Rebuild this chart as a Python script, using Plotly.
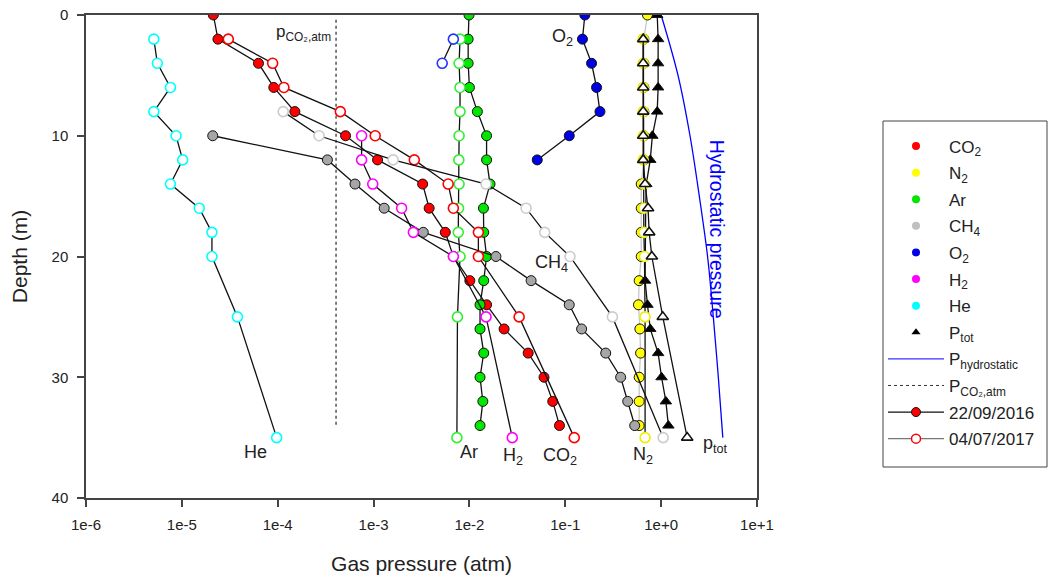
import math
import plotly.graph_objects as go

# ---------------- data ----------------
depth_2016 = [0, 2, 4, 6, 8, 10, 12, 14, 16, 18, 20, 22, 24, 26, 28, 30, 32, 34]
co2_2016 = [2.13e-5, 2.38e-5, 6.3e-5, 9.1e-5, 1.51e-4, 5.1e-4, 1.1e-3, 3.25e-3, 3.8e-3,
            5.6e-3, 6.8e-3, 1.01e-2, 1.51e-2, 2.3e-2, 4.1e-2, 6.0e-2, 7.4e-2, 8.7e-2]
ar_2016 = [9.9e-3, 9.7e-3, 9.7e-3, 1.0e-2, 1.21e-2, 1.51e-2, 1.51e-2, 1.64e-2, 1.4e-2,
           1.41e-2, 1.51e-2, 1.41e-2, 1.29e-2, 1.29e-2, 1.41e-2, 1.29e-2, 1.38e-2, 1.29e-2]
n2_2016 = [0.72, 0.66, 0.66, 0.66, 0.66, 0.66, 0.66, 0.62, 0.62, 0.62, 0.62, 0.59, 0.58,
           0.60, 0.61, 0.59, 0.59, 0.59]
ptot_2016 = [0.91, 0.93, 0.93, 0.93, 0.91, 0.81, 0.77, 0.70, 0.69, 0.69, 0.68, 0.68, 0.72,
             0.77, 0.93, 1.01, 1.12, 1.19]
depth_o2_2016 = [0, 2, 4, 6, 8, 10, 12]
o2_2016 = [0.16, 0.151, 0.188, 0.212, 0.23, 0.110, 0.051]
depth_ch4_2016 = [10, 12, 14, 16, 18, 20, 22, 24, 26, 28, 30, 32, 34]
ch4_2016 = [2.1e-5, 3.3e-4, 6.4e-4, 1.29e-3, 3.3e-3, 1.89e-2, 4.4e-2, 0.110, 0.148,
            0.264, 0.378, 0.448, 0.53]

depth_2017 = [2, 4, 6, 8, 10, 12, 14, 16, 18, 20, 25, 35]
co2_2017 = [3.05e-5, 8.85e-5, 1.16e-4, 4.5e-4, 1.04e-3, 2.66e-3, 6.0e-3, 6.8e-3, 1.24e-2,
            1.24e-2, 3.3e-2, 0.124]
ar_2017 = [7.98e-3, 7.8e-3, 7.98e-3, 7.98e-3, 7.8e-3, 7.75e-3, 7.8e-3, 7.7e-3, 7.65e-3,
           7.98e-3, 7.5e-3, 7.4e-3]
he_2017 = [5.1e-6, 5.55e-6, 7.6e-6, 5.1e-6, 8.7e-6, 1.02e-5, 7.6e-6, 1.52e-5, 2.06e-5,
           2.06e-5, 3.8e-5, 9.75e-5]
n2_2017 = [0.65, 0.65, 0.65, 0.65, 0.65, 0.65, 0.66, 0.66, 0.66, 0.67, 0.68, 0.68]
ptot_2017 = [0.65, 0.65, 0.65, 0.65, 0.65, 0.65, 0.68, 0.73, 0.75, 0.80, 1.04, 1.87]
depth_ch4_2017 = [8, 10, 12, 14, 16, 18, 20, 25, 35]
ch4_2017 = [1.14e-4, 2.7e-4, 1.6e-3, 1.49e-2, 3.9e-2, 6.1e-2, 0.112, 0.31, 1.05]
depth_h2_2017 = [10, 12, 14, 16, 18, 20, 25, 35]
h2_2017 = [7.5e-4, 7.5e-4, 9.8e-4, 1.96e-3, 2.6e-3, 6.8e-3, 1.49e-2, 2.8e-2]
depth_o2_2017 = [2, 4]
o2_2017 = [6.8e-3, 5.2e-3]

depth_hydro = [0, 5, 10, 15, 20, 25, 30, 35]
p_hydro = [1.0, 1.5, 2.0, 2.5, 3.05, 3.5, 3.95, 4.4]

p_co2_atm = 4.06e-4
depth_co2_atm = [0.4, 34]

x_tickvals = [1e-6, 1e-5, 1e-4, 1e-3, 1e-2, 1e-1, 1e0, 1e1]
x_ticktext = ["1e-6", "1e-5", "1e-4", "1e-3", "1e-2", "1e-1", "1e+0", "1e+1"]
y_tickvals = [0, 10, 20, 30, 40]

# ---------------- styling ----------------
FONT = "Arial, Liberation Sans, sans-serif"
TXT = "#222222"
C_CO2, C_N2, C_AR, C_CH4, C_O2, C_H2, C_HE = ("#ff0000", "#ffff00", "#00e600", "#a6a6a6",
                                              "#0000e6", "#ff00ff", "#00ffff")
C_CH4_OPEN = "#cccccc"
LINE16 = dict(color="#111111", width=1.3)
LINE17 = dict(color="#111111", width=1.3)
MS = 10

fig = go.Figure()


def filled(x, y, color, line=LINE16, symbol="circle"):
    fig.add_trace(go.Scatter(x=x, y=y, mode="lines+markers", showlegend=False,
                             line=line,
                             marker=dict(symbol=symbol, size=MS, color=color,
                                         line=dict(color="#111111", width=1))))


def opened(x, y, color, line=LINE17, symbol="circle"):
    fig.add_trace(go.Scatter(x=x, y=y, mode="lines+markers", showlegend=False,
                             line=line,
                             marker=dict(symbol=symbol, size=MS, color="white",
                                         line=dict(color=color, width=1.6))))


# reference lines
fig.add_trace(go.Scatter(x=p_hydro, y=depth_hydro, mode="lines", showlegend=False,
                         line=dict(color="#0000ff", width=1.3, shape="spline")))
fig.add_trace(go.Scatter(x=[p_co2_atm, p_co2_atm], y=depth_co2_atm, mode="lines",
                         showlegend=False, line=dict(color="#555555", width=1.5, dash="dot")))

# 22/09/2016
filled(n2_2016, depth_2016, C_N2, line=dict(color="#c8c8c8", width=1.3))
filled(ptot_2016, depth_2016, "#000000", symbol="triangle-up")
filled(co2_2016, depth_2016, C_CO2)
filled(ar_2016, depth_2016, C_AR)
filled(o2_2016, depth_o2_2016, C_O2)
filled(ch4_2016, depth_ch4_2016, C_CH4)

# 04/07/2017
opened(he_2017, depth_2017, C_HE)
opened(ar_2017, depth_2017, "#33ee33")
opened(co2_2017, depth_2017, C_CO2)
opened(ch4_2017, depth_ch4_2017, C_CH4_OPEN)
opened(h2_2017, depth_h2_2017, C_H2)
opened(o2_2017, depth_o2_2017, "#2233ff")
opened(n2_2017, depth_2017, "#eeee00")
opened(ptot_2017, depth_2017, "#111111", symbol="triangle-up")

# ---------------- legend entries ----------------
leg_items = [
    ("CO<sub>2</sub>", C_CO2), ("N<sub>2</sub>", C_N2), ("Ar", C_AR),
    ("CH<sub>4</sub>", "#c0c0c0"), ("O<sub>2</sub>", C_O2), ("H<sub>2</sub>", C_H2),
    ("He", C_HE),
]
for i, (name, col) in enumerate(leg_items):
    fig.add_trace(go.Scatter(x=[None], y=[None], mode="markers", name=name,
                             legendgroup=f"g{i}",
                             marker=dict(size=8, color=col, line=dict(width=0))))
fig.add_trace(go.Scatter(x=[None], y=[None], mode="markers", name="P<sub>tot</sub>",
                         legendgroup="g7",
                         marker=dict(symbol="triangle-up", size=8, color="black")))
fig.add_trace(go.Scatter(x=[None], y=[None], mode="lines", name="P<sub>hydrostatic</sub>",
                         legendgroup="g8", line=dict(color="#3333ff", width=1.3)))
fig.add_trace(go.Scatter(x=[None], y=[None], mode="lines", name="P<sub>CO₂,atm</sub>",
                         legendgroup="g9", line=dict(color="#333333", width=1, dash="dot")))
fig.add_trace(go.Scatter(x=[None], y=[None], mode="lines+markers", name="22/09/2016",
                         legendgroup="g10", line=dict(color="#111111", width=1.3),
                         marker=dict(size=9, color=C_CO2, line=dict(color="#111111", width=1))))
fig.add_trace(go.Scatter(x=[None], y=[None], mode="lines+markers", name="04/07/2017",
                         legendgroup="g11", line=dict(color="#777777", width=1.3),
                         marker=dict(size=9, color="white", line=dict(color=C_CO2, width=1.5))))

# ---------------- annotations (x in log10 units on the log axis) ----------------
ann = [
    ("He", 5.8e-5, 36.2), ("Ar", 9.9e-3, 36.2), ("H<sub>2</sub>", 2.84e-2, 36.6),
    ("CO<sub>2</sub>", 8.8e-2, 36.6), ("N<sub>2</sub>", 0.647, 36.5),
    ("p<sub>tot</sub>", 3.65, 35.6), ("CH<sub>4</sub>", 7.26e-2, 20.6),
    ("O<sub>2</sub>", 9.25e-2, 1.9),
]
for text, x, y in ann:
    fig.add_annotation(x=math.log10(x), y=y, text=text, showarrow=False,
                       font=dict(family=FONT, size=18, color=TXT))
fig.add_annotation(x=math.log10(3.78e-4), y=1.5, text="p<sub>CO₂,atm</sub>", showarrow=False,
                   xanchor="right", font=dict(family=FONT, size=17, color=TXT))
fig.add_annotation(x=math.log10(3.83), y=17.7, text="Hydrostatic pressure", showarrow=False,
                   textangle=90, font=dict(family=FONT, size=19.5, color="#0000ff"))

# legend frame (drawn as a shape so its padding matches the reference)
PL, PT, PW, PH = 86, 15, 671, 483
fig.add_shape(type="rect", xref="paper", yref="paper",
              x0=(883 - PL) / PW, x1=(1047 - PL) / PW,
              y0=(PT + PH - 467) / PH, y1=(PT + PH - 121) / PH,
              line=dict(color="#444444", width=1), fillcolor="rgba(0,0,0,0)", layer="above")

axis_common = dict(showline=True, linecolor="#444444", linewidth=1.5, mirror=True,
                   ticks="outside", ticklen=7, tickwidth=1.5, tickcolor="#444444",
                   showgrid=False, zeroline=False, automargin=False,
                   tickfont=dict(family=FONT, size=15, color=TXT))

fig.update_layout(
    width=1052, height=581,
    margin=dict(l=PL, r=1052 - PL - PW, t=PT, b=581 - PT - PH),
    paper_bgcolor="white", plot_bgcolor="white",
    font=dict(family=FONT, color=TXT),
    xaxis=dict(type="log", range=[-6, 1], tickvals=x_tickvals, ticktext=x_ticktext,
               ticklabelstandoff=5,
               title=dict(text="Gas pressure (atm)", font=dict(family=FONT, size=21, color=TXT),
                          standoff=25),
               **axis_common),
    yaxis=dict(range=[40, 0], tickvals=y_tickvals, ticklabelstandoff=6,
               title=dict(text="Depth (m)", font=dict(family=FONT, size=21, color=TXT),
                          standoff=18),
               **axis_common),
    legend=dict(x=(883 - PL) / PW, y=0.765, xanchor="left", yanchor="top",
                borderwidth=0, bgcolor="rgba(0,0,0,0)",
                font=dict(family=FONT, size=17, color=TXT), tracegroupgap=1.5,
                itemwidth=56),
)

fig.write_html("out.html")
